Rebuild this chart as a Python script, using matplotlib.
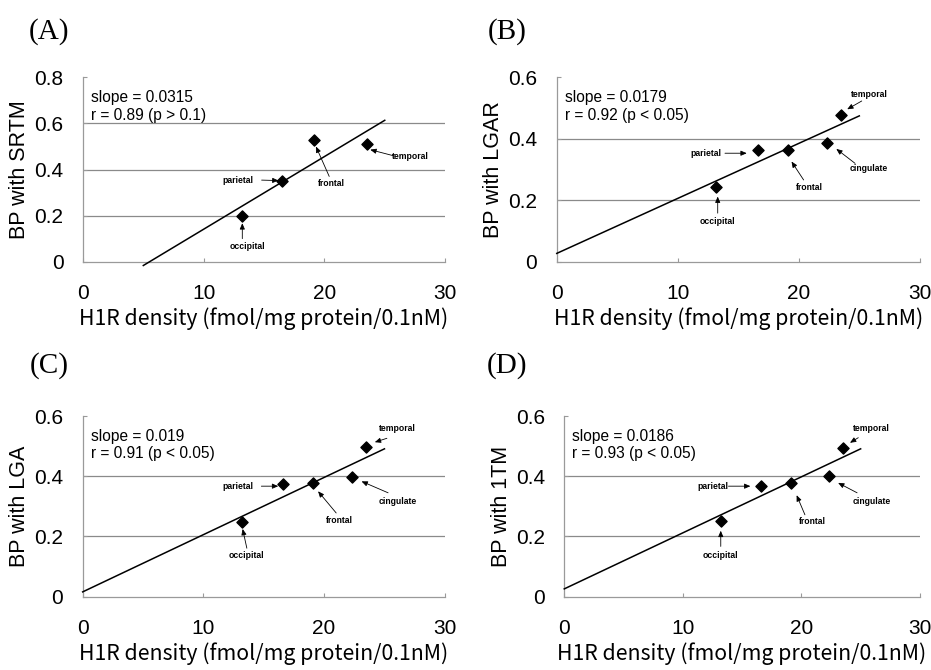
import numpy as np
import matplotlib.pyplot as plt

# ---- data ----
regions = ["occipital", "parietal", "frontal", "cingulate", "temporal"]

h1r_a = [13.2, 16.5, 19.1, 23.5]          # panel A has no cingulate
bp_srtm = [0.199, 0.348, 0.529, 0.510]

h1r = [13.2, 16.6, 19.1, 22.3, 23.5]
bp_lgar = [0.244, 0.362, 0.364, 0.386, 0.476]
bp_lga = [0.247, 0.375, 0.378, 0.397, 0.498]
bp_1tm = [0.252, 0.369, 0.377, 0.400, 0.495]

slopes = [0.0315, 0.0179, 0.019, 0.0186]
intercepts = [-0.174, 0.027, 0.016, 0.026]
r_text = ["r = 0.89 (p > 0.1)", "r = 0.92 (p < 0.05)",
          "r = 0.91 (p < 0.05)", "r = 0.93 (p < 0.05)"]
ylabels = ["BP with SRTM", "BP with LGAR", "BP with LGA", "BP with 1TM"]
panel_tags = ["(A)", "(B)", "(C)", "(D)"]

# ---- layout (positions only) ----
axes_rect = [
    [0.0891, 0.6094, 0.389, 0.2752],
    [0.598, 0.6094, 0.390, 0.2752],
    [0.0888, 0.1094, 0.389, 0.2697],
    [0.6061, 0.1094, 0.382, 0.2697],
]
tag_pos = [(0.053, 0.953), (0.5445, 0.953), (0.053, 0.455), (0.5445, 0.455)]
line_x = [(5, 25), (0, 25), (0, 25), (0, 25)]
ylims = [0.8, 0.6, 0.6, 0.6]

# label position, arrow tail, arrow tip (data coords)
ann_a = {
    "occipital": ((13.6, 0.068), (13.2, 0.10), (13.2, 0.167)),
    "parietal": ((12.8, 0.354), (14.8, 0.354), (16.2, 0.352)),
    "frontal": ((20.6, 0.34), (20.4, 0.37), (19.3, 0.50)),
    "temporal": ((27.1, 0.456), (25.7, 0.46), (23.8, 0.486)),
}
ann_b = {
    "occipital": ((13.3, 0.13), (13.3, 0.158), (13.3, 0.212)),
    "parietal": ((12.3, 0.353), (13.9, 0.353), (15.7, 0.353)),
    "frontal": ((20.9, 0.242), (20.4, 0.266), (19.4, 0.326)),
    "cingulate": ((25.8, 0.304), (24.65, 0.32), (23.1, 0.367)),
    "temporal": ((25.8, 0.543), (25.2, 0.523), (24.0, 0.496)),
}
ann_c = {
    "occipital": ((13.6, 0.136), (13.6, 0.161), (13.25, 0.225)),
    "parietal": ((12.9, 0.367), (14.8, 0.367), (16.2, 0.367)),
    "frontal": ((21.3, 0.252), (21.0, 0.278), (19.5, 0.35)),
    "cingulate": ((26.1, 0.315), (25.3, 0.345), (23.1, 0.383)),
    "temporal": ((26.1, 0.558), (25.2, 0.526), (24.2, 0.513)),
}
ann_d = {
    "occipital": ((13.2, 0.136), (13.2, 0.167), (13.2, 0.219)),
    "parietal": ((12.5, 0.367), (13.85, 0.367), (15.7, 0.367)),
    "frontal": ((20.9, 0.25), (20.3, 0.272), (19.6, 0.337)),
    "cingulate": ((25.9, 0.315), (24.7, 0.345), (23.1, 0.378)),
    "temporal": ((25.9, 0.558), (24.8, 0.528), (24.1, 0.511)),
}

panels = [
    (h1r_a, bp_srtm, ann_a),
    (h1r, bp_lgar, ann_b),
    (h1r, bp_lga, ann_c),
    (h1r, bp_1tm, ann_d),
]

plt.rcParams['font.family'] = ['Liberation Sans', 'DejaVu Sans']

fig = plt.figure(figsize=(9.31, 6.70), dpi=100)

for i, (xs, ys, ann) in enumerate(panels):
    ax = fig.add_axes(axes_rect[i])
    ymax = ylims[i]
    ax.set_xlim(0, 30)
    ax.set_ylim(0, ymax)
    yt = np.arange(0, ymax + 0.001, 0.2)
    ax.set_yticks(yt)
    ax.set_yticklabels(["0"] + ["%.1f" % v for v in yt[1:]])
    ax.set_xticks([0, 10, 20, 30])

    # horizontal grid lines (interior ticks only)
    for v in yt[1:-1]:
        ax.axhline(v, color="#8a8a8a", lw=0.9, zorder=1)

    for side in ["top", "right"]:
        ax.spines[side].set_visible(False)
    for side in ["left", "bottom"]:
        ax.spines[side].set_color("#9a9a9a")
        ax.spines[side].set_linewidth(0.9)
    ax.tick_params(direction="in", length=3, width=0.8, color="#9a9a9a",
                   labelsize=15)
    ax.tick_params(axis="x", pad=16)
    ax.tick_params(axis="y", pad=14)

    # regression line
    lx = np.array(line_x[i], dtype=float)
    ax.plot(lx, slopes[i] * lx + intercepts[i], color="black", lw=1.1,
            zorder=3, clip_on=False)

    ax.scatter(xs, ys, marker="D", s=32, color="black", zorder=4)

    for name, (tpos, tail, tip) in ann.items():
        ax.text(tpos[0], tpos[1], name, fontsize=6.2, fontweight="bold",
                ha="center", va="center", zorder=5)
        ax.annotate("", xy=tip, xytext=tail,
                    arrowprops=dict(arrowstyle="-|>,head_length=0.35,head_width=0.15",
                                    lw=0.6, color="black",
                                    shrinkA=0, shrinkB=0), zorder=5)

    ax.text(0.022, 0.93, "slope = %s\n%s" % (slopes[i], r_text[i]),
            transform=ax.transAxes, fontsize=11.2, va="top", ha="left",
            linespacing=1.2)

    ax.set_ylabel(ylabels[i], fontsize=15.5, labelpad=3)
    ax.set_xlabel("H1R density (fmol/mg protein/0.1nM)", fontsize=15.3,
                  family=["Noto Sans CJK JP", "DejaVu Sans"], labelpad=3)

    fig.text(tag_pos[i][0], tag_pos[i][1], panel_tags[i], fontsize=21,
             family=["Liberation Serif", "DejaVu Serif"], ha="center", va="center")

fig.savefig("out.png", dpi=100)
